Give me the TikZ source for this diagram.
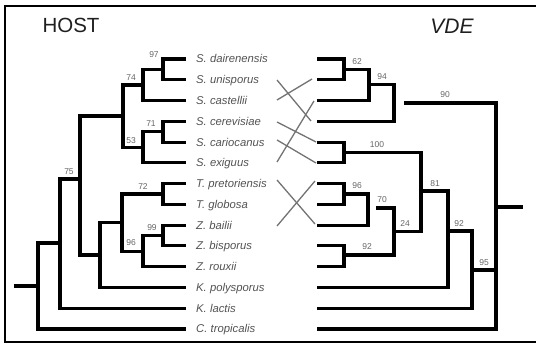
\documentclass[tikz,border=0pt]{standalone}
\usepackage{fontspec}
\setmainfont{Liberation Sans}
\begin{document}
\begin{tikzpicture}[x=1pt,y=-1pt,
  tree/.style={line width=3.1pt, line join=miter},
  frame/.style={line width=2.2pt},
  xline/.style={line width=1.3pt, draw=black!55},
  tip/.style={anchor=base west, inner sep=0pt, text=black!68, font=\fontsize{11.3}{12}\selectfont\itshape},
  bs/.style={inner sep=0pt, text=black!60, font=\fontsize{8.5}{9}\selectfont},
  title/.style={inner sep=0pt, text=black!88, font=\fontsize{20.5}{22}\selectfont}]
\useasboundingbox (0,0) rectangle (536,344);
\draw[frame] (537,6) -- (5,6) -- (5,342) -- (537,342);
% titles
\node[title] (host) at (71,25) {HOST};
\node[title, font=\fontsize{21}{22}\selectfont\itshape] (vde) at (452,26) {VDE};
% left tips
\coordinate (t1) at (186,59);
\coordinate (t2) at (186,79.8);
\coordinate (t3) at (186,100.5);
\coordinate (t4) at (186,121.3);
\coordinate (t5) at (186,142.1);
\coordinate (t6) at (186,162.9);
\coordinate (t7) at (186,183.6);
\coordinate (t8) at (186,204.4);
\coordinate (t9) at (186,225.2);
\coordinate (t10) at (186,245.9);
\coordinate (t11) at (186,266.7);
\coordinate (t12) at (186,287.5);
\coordinate (t13) at (186,308.2);
\coordinate (t14) at (186,329);
\node[tip] (l1) at (196,63) {S. dairenensis};
\node[tip] (l2) at (196,83.8) {S. unisporus};
\node[tip] (l3) at (196,104.5) {S. castellii};
\node[tip] (l4) at (196,125.3) {S. cerevisiae};
\node[tip] (l5) at (196,146.1) {S. cariocanus};
\node[tip] (l6) at (196,166.9) {S. exiguus};
\node[tip] (l7) at (196,187.6) {T. pretoriensis};
\node[tip] (l8) at (196,208.4) {T. globosa};
\node[tip] (l9) at (196,229.2) {Z. bailii};
\node[tip] (l10) at (196,249.9) {Z. bisporus};
\node[tip] (l11) at (196,270.7) {Z. rouxii};
\node[tip] (l12) at (196,291.5) {K. polysporus};
\node[tip] (l13) at (196,312.2) {K. lactis};
\node[tip] (l14) at (196,333) {C. tropicalis};
% left internal nodes
\coordinate (a97) at (163,69.4);
\coordinate (a74) at (143,85);
\coordinate (a71) at (163,131.7);
\coordinate (a53) at (143,147.3);
\coordinate (aS) at (123,116);
\coordinate (a72) at (163,194);
\coordinate (a99) at (163,235.5);
\coordinate (a96) at (143,251.1);
\coordinate (aTZ) at (122,222.6);
\coordinate (aK) at (100,255);
\coordinate (aSK) at (80,179);
\coordinate (a75) at (60,243);
\coordinate (aR) at (38,286);
\coordinate (aStub) at (14,286);
\draw[tree] (t1) -| (a97) |- (t2);
\draw[tree] (a97) -| (a74) |- (t3);
\draw[tree] (t4) -| (a71) |- (t5);
\draw[tree] (a71) -| (a53) |- (t6);
\draw[tree] (a74) -| (aS) |- (a53);
\draw[tree] (t7) -| (a72) |- (t8);
\draw[tree] (t9) -| (a99) |- (t10);
\draw[tree] (a99) -| (a96) |- (t11);
\draw[tree] (a72) -| (aTZ) |- (a96);
\draw[tree] (aTZ) -| (aK) |- (t12);
\draw[tree] (aS) -| (aSK) |- (aK);
\draw[tree] (aSK) -| (a75) |- (t13);
\draw[tree] (a75) -| (aR) |- (t14);
\draw[tree] (aStub) -- (aR);
% left support values
\node[bs] (s97) at (154,55) {97};
\node[bs] (s74) at (131,78) {74};
\node[bs] (s71) at (151,124) {71};
\node[bs] (s53) at (131,141) {53};
\node[bs] (s75) at (69,172) {75};
\node[bs] (s72) at (143,187) {72};
\node[bs] (s99) at (152,228) {99};
\node[bs] (s96) at (131,243) {96};
% right tips
\coordinate (u1) at (317,59);
\coordinate (u2) at (317,79.8);
\coordinate (u3) at (317,100.5);
\coordinate (u4) at (317,121.3);
\coordinate (u5) at (317,142.1);
\coordinate (u6) at (317,162.9);
\coordinate (u7) at (317,183.6);
\coordinate (u8) at (317,204.4);
\coordinate (u9) at (317,225.2);
\coordinate (u10) at (317,245.9);
\coordinate (u11) at (317,266.7);
\coordinate (u12) at (317,287.5);
\coordinate (u13) at (317,308.2);
\coordinate (u14) at (317,329);
% right internal nodes
\coordinate (b62) at (344,69.4);
\coordinate (b94a) at (369,84.5);
\coordinate (b94) at (394,103);
\coordinate (b90s) at (404,103);
\coordinate (b90e) at (496,103);
\coordinate (b100) at (344,152.5);
\coordinate (b96) at (344,194);
\coordinate (b70a) at (368,208);
\coordinate (b70s) at (376,208);
\coordinate (b92b) at (344,255);
\coordinate (b24) at (394,231.5);
\coordinate (b81) at (421,191);
\coordinate (b92) at (448,231);
\coordinate (b95) at (472,270);
\coordinate (bR) at (496,207);
\coordinate (bStub) at (523,207);
\draw[tree] (u1) -| (b62) |- (u2);
\draw[tree] (b62) -| (b94a) |- (u3);
\draw[tree] (b94a) -| (b94) |- (u4);
\draw[tree] (b90s) -- (b90e) |- (u14);
\draw[tree] (u5) -| (b100) |- (u6);
\draw[tree] (u7) -| (b96) |- (u8);
\draw[tree] (b96) -| (b70a) |- (u9);
\draw[tree] (u10) -| (b92b) |- (u11);
\draw[tree] (b70s) -| (b24) |- (b92b);
\draw[tree] (b100) -| (b81) |- (b24);
\draw[tree] (b81) -| (b92) |- (u12);
\draw[tree] (b92) -| (b95) |- (u13);
\draw[tree] (b95) -- (b95 -| bR);
\draw[tree] (bR) -- (bStub);
% right support values
\node[bs] (r62) at (357,62) {62};
\node[bs] (r94) at (382,77) {94};
\node[bs] (r90) at (445,95) {90};
\node[bs] (r100) at (377,145) {100};
\node[bs] (r96) at (357,186) {96};
\node[bs] (r70) at (382,200) {70};
\node[bs] (r24) at (405,224) {24};
\node[bs] (r81) at (435,184) {81};
\node[bs] (r92) at (459,224) {92};
\node[bs] (r92b) at (367,247) {92};
\node[bs] (r95) at (484,263) {95};
% host-parasite links
\coordinate (c2) at (277,80);
\coordinate (c3) at (277,100);
\coordinate (c4) at (277,122);
\coordinate (c5) at (277,140);
\coordinate (c6) at (277,162);
\coordinate (c7) at (277,180);
\coordinate (c9) at (277,226);
\coordinate (d2) at (312,79);
\coordinate (d3) at (314,101);
\coordinate (d4) at (311,121);
\coordinate (d5) at (316,142);
\coordinate (d6) at (316,163);
\coordinate (d7) at (315,181);
\coordinate (d9) at (315,224);
\draw[xline] (c2) -- (d4);
\draw[xline] (c3) -- (d2);
\draw[xline] (c6) -- (d3);
\draw[xline] (c4) -- (d5);
\draw[xline] (c5) -- (d6);
\draw[xline] (c7) -- (d9);
\draw[xline] (c9) -- (d7);
\end{tikzpicture}
\end{document}
